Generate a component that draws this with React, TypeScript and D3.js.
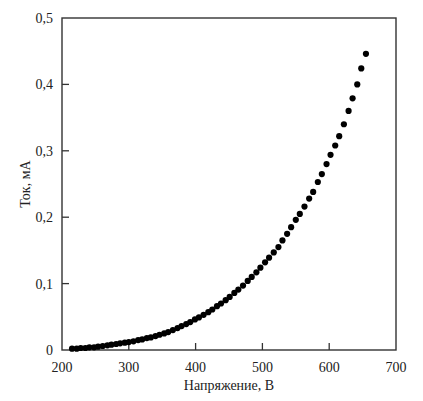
import React from "react";
import * as d3 from "d3";

const voltage = [
  215, 222, 228, 235, 241, 248, 254, 261, 268, 274, 281, 287, 294, 300, 307, 314, 320, 327,
  333, 340, 346, 353, 359, 366, 373, 379, 386, 392, 399, 405, 412, 419, 425, 432, 438, 445,
  451, 458, 464, 471, 478, 484, 491, 497, 504, 510, 517, 524, 530, 537, 543, 550, 556, 563,
  570, 576, 583, 589, 596, 602, 609, 615, 622, 629, 635, 642, 648, 655,
];
const current = [
  0.002, 0.002, 0.003, 0.003, 0.004, 0.004, 0.005, 0.006, 0.007, 0.008, 0.009, 0.010, 0.011,
  0.012, 0.013, 0.015, 0.016, 0.018, 0.019, 0.021, 0.023, 0.025, 0.027, 0.030, 0.033, 0.036,
  0.039, 0.042, 0.046, 0.049, 0.053, 0.057, 0.061, 0.066, 0.070, 0.075, 0.080, 0.086, 0.091,
  0.097, 0.104, 0.110, 0.117, 0.124, 0.132, 0.139, 0.147, 0.155, 0.165, 0.175, 0.185, 0.196,
  0.205, 0.216, 0.228, 0.238, 0.253, 0.265, 0.280, 0.294, 0.308, 0.322, 0.340, 0.360, 0.379,
  0.400, 0.424, 0.446,
];
const xTicks = [200, 300, 400, 500, 600, 700];
const yTicks = [0, 0.1, 0.2, 0.3, 0.4, 0.5];
const xTitle = "Напряжение, В";
const yTitle = "Ток, мА";

export default function App() {
  const W = 423, H = 401;
  const left = 62, right = 396, top = 18, bottom = 350;
  const x = d3.scaleLinear().domain([200, 700]).range([left, right]);
  const y = d3.scaleLinear().domain([0, 0.5]).range([bottom, top]);
  const fmtY = (v: number) => (v === 0 ? "0" : d3.format(".1f")(v).replace(".", ","));
  const axisColor = "#333";
  const fs = 14;
  return (
    <svg
      width={W}
      height={H}
      style={{
        position: "absolute",
        left: 0,
        top: 0,
        background: "#fff",
        fontFamily: "'Liberation Serif', 'Times New Roman', Times, serif",
      }}
    >
      <rect x={left} y={top} width={right - left} height={bottom - top} fill="none" stroke={axisColor} strokeWidth={1.4} />
      {xTicks.slice(1, -1).map((t) => (
        <line key={"xt" + t} x1={x(t)} x2={x(t)} y1={bottom} y2={bottom - 7} stroke={axisColor} strokeWidth={1.3} />
      ))}
      {yTicks.slice(1, -1).map((t) => (
        <line key={"yt" + t} x1={left} x2={left + 7} y1={y(t)} y2={y(t)} stroke={axisColor} strokeWidth={1.3} />
      ))}
      {xTicks.map((t) => (
        <text key={"xl" + t} x={x(t)} y={372} textAnchor="middle" fontSize={fs} fill="#222">
          {t}
        </text>
      ))}
      {yTicks.map((t) => (
        <text key={"yl" + t} x={53} y={y(t)} dy="0.35em" textAnchor="end" fontSize={fs} fill="#222">
          {fmtY(t)}
        </text>
      ))}
      <text x={(left + right) / 2} y={390} textAnchor="middle" fontSize={fs} fill="#222">
        {xTitle}
      </text>
      <text
        transform={`translate(30,${(top + bottom) / 2}) rotate(-90)`}
        textAnchor="middle"
        fontSize={fs}
        fill="#222"
      >
        {yTitle}
      </text>
      {voltage.map((v, i) => (
        <circle key={"p" + i} cx={x(v)} cy={y(current[i])} r={3.1} fill="#000" />
      ))}
    </svg>
  );
}
